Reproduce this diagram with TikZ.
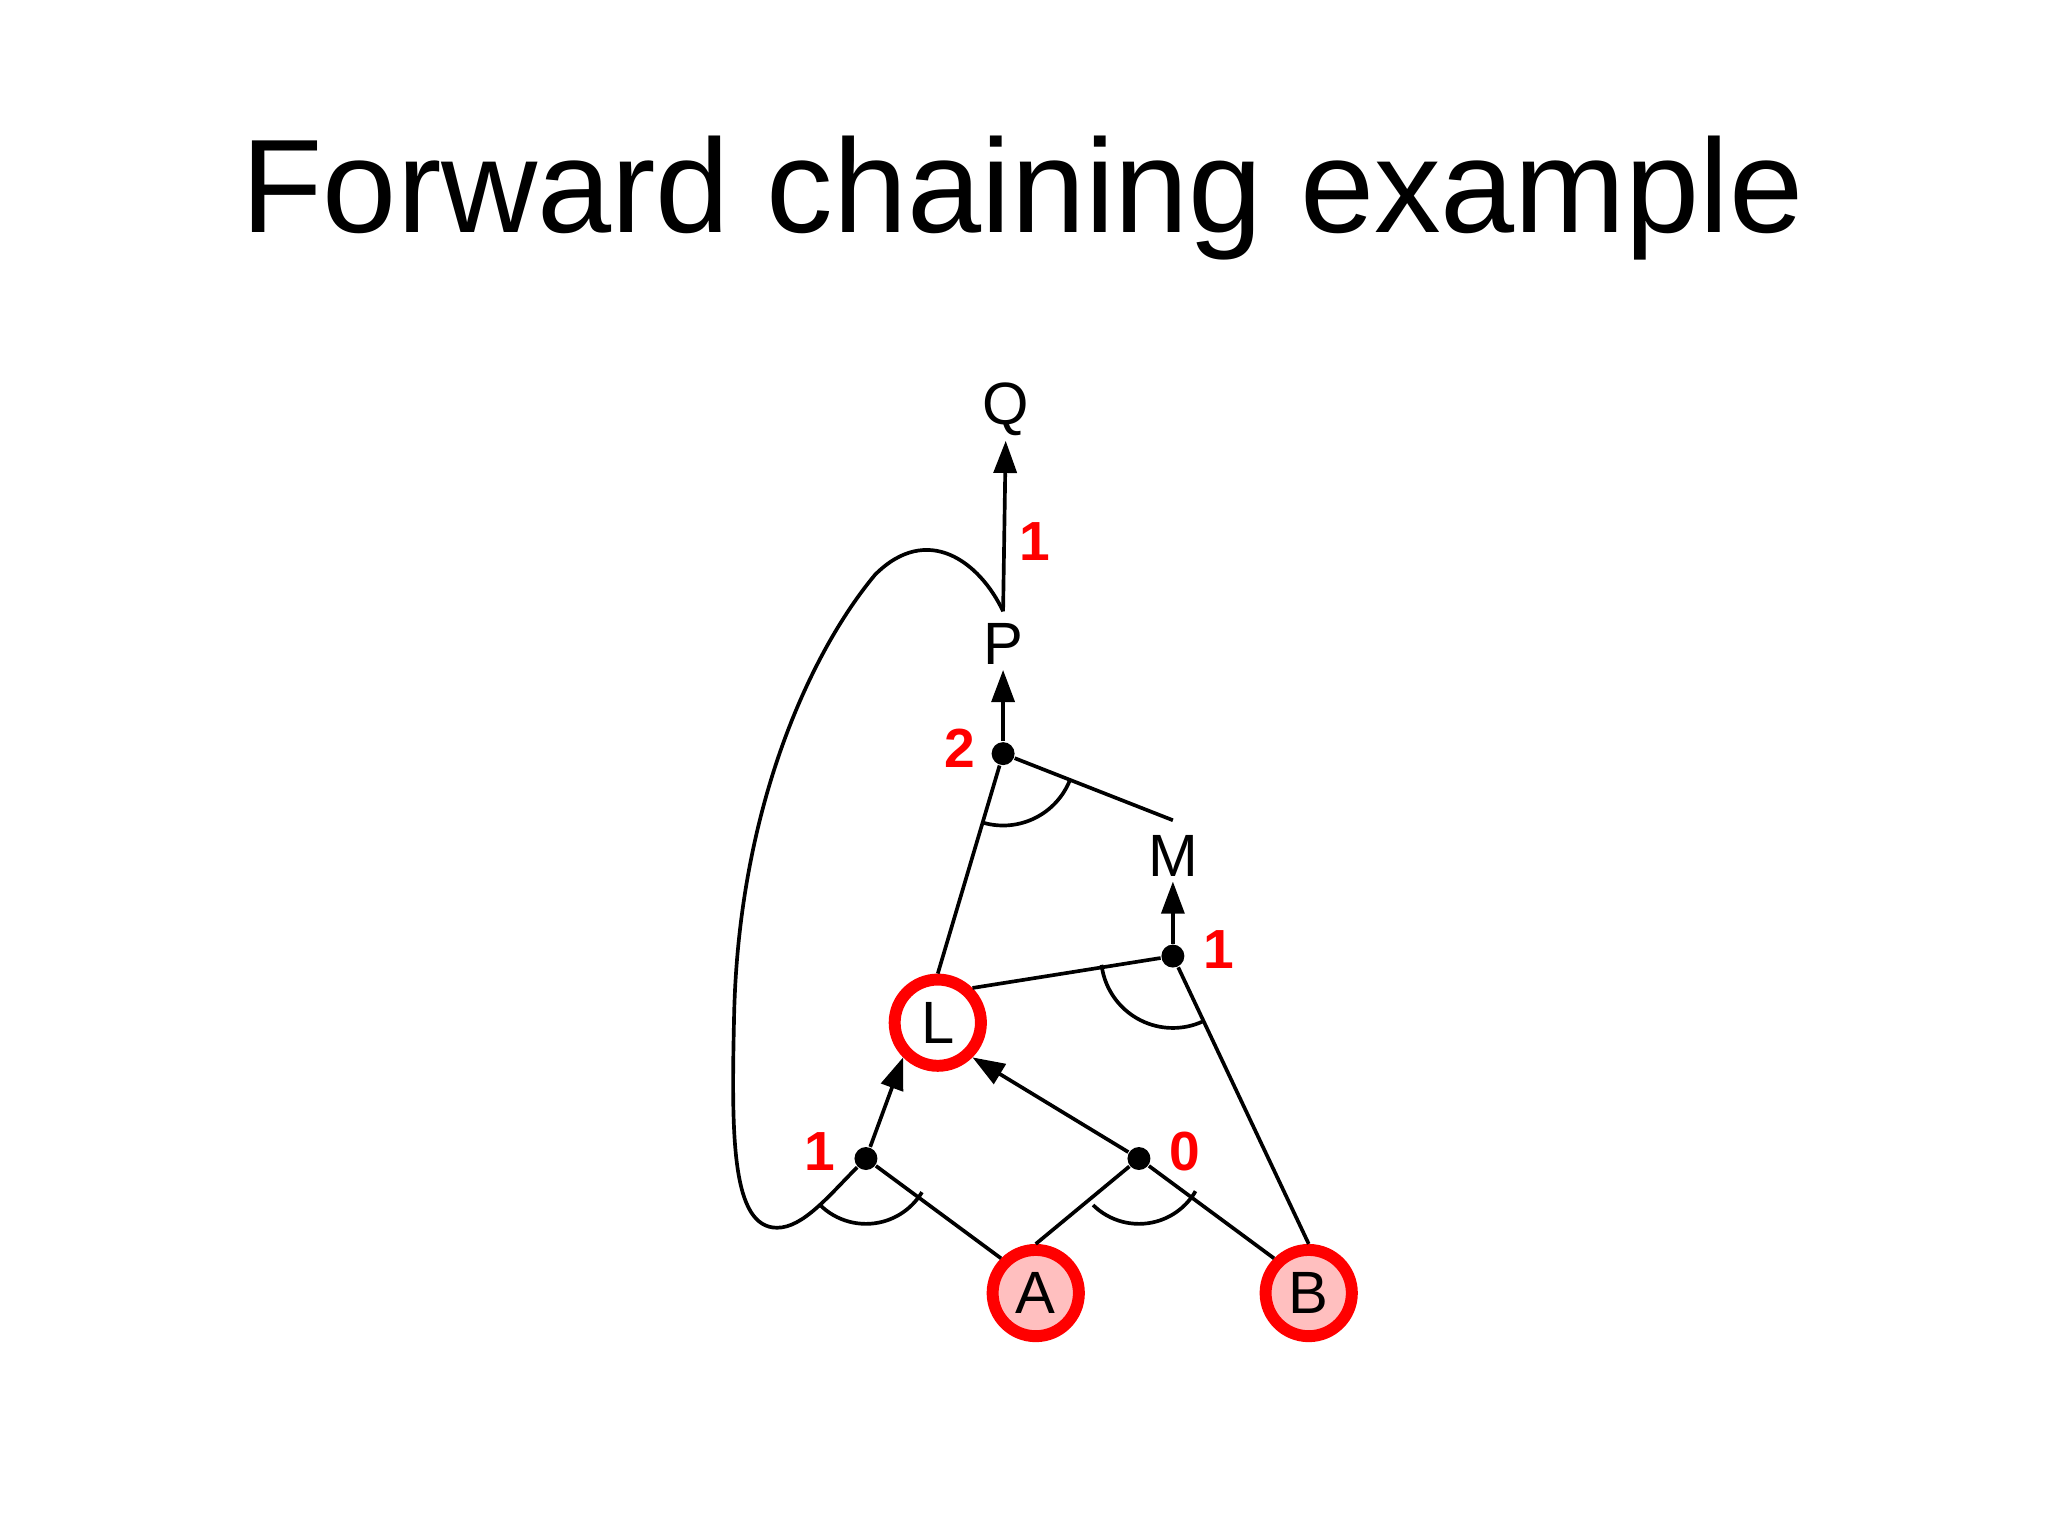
\documentclass[tikz,border=0pt]{standalone}
\usepackage{fontspec}
\setmainfont{Liberation Sans}
\usetikzlibrary{arrows.meta}
\begin{document}
\begin{tikzpicture}[x=0.01cm,y=0.01cm,
  lbl/.style={font=\fontsize{13}{15}\selectfont, inner sep=1pt},
  num/.style={font=\fontsize{12}{14}\selectfont\bfseries, text=red},
  dotn/.style={circle, fill=black, inner sep=0pt, minimum size=5pt},
  ring/.style={circle, draw=red, line width=2.6pt, minimum size=0.66cm, inner sep=0pt, font=\fontsize{13}{15}\selectfont},
  ln/.style={line width=0.8pt},
  arr/.style={ln, -{Triangle[length=7pt,width=5pt]}}]
\useasboundingbox (0,0) rectangle (1568,-1176);
\node at (783,-152) {\fontsize{29}{34}\selectfont Forward chaining example};
\node[lbl] (Q) at (770,-313) {Q};
\node[lbl] (P) at (768,-493) {P};
\node[lbl] (M) at (898,-655) {M};
\node[ring, fill=white] (L) at (718,-783) {L};
\node[ring, fill=red!25] (A) at (793,-990) {A};
\node[ring, fill=red!25] (B) at (1002,-990) {B};
\node[dotn] (pd) at (768,-577) {};
\node[dotn] (md) at (898,-732) {};
\node[dotn] (l1) at (663,-887) {};
\node[dotn] (l2) at (872,-887) {};
\coordinate (pb) at (768,-468);
\coordinate (mt) at (898,-628);
\draw[arr] (pb) -- (Q.south);
\draw[arr] (pd) -- (P.south);
\draw[arr] (md) -- (M.south);
\draw[arr] (l1) -- (L.south west);
\draw[arr] (l2) -- (L.south east);
\draw[ln] (pd) -- (mt);
\draw[ln] (pd) -- (L.north);
\draw[ln] (md) -- (L.north east);
\draw[ln] (md) -- (B.north);
\draw[ln] (l1) -- (A.north west);
\draw[ln] (l2) -- (A.north);
\draw[ln] (l2) -- (B.north west);
\draw[ln] (l1) .. controls (635,-915) and (615,-940) .. (595,-940)
  .. controls (560,-940) and (560,-870) .. (562,-780)
  .. controls (565,-620) and (620,-500) .. (670,-440)
  .. controls (710,-400) and (750,-430) .. (pb);
\draw[ln] ([shift={(254.5:0.55cm)}]pd.center) arc[start angle=254.5,end angle=338.6,radius=0.55cm];
\draw[ln] ([shift={(187:0.55cm)}]md.center) arc[start angle=187,end angle=294,radius=0.55cm];
\draw[ln] ([shift={(225:0.5cm)}]l1.center) arc[start angle=225,end angle=329,radius=0.5cm];
\draw[ln] ([shift={(225.4:0.5cm)}]l2.center) arc[start angle=225.4,end angle=330,radius=0.5cm];
\node[num] at (792,-415) {1};
\node[num] at (735,-573) {2};
\node[num] at (933,-727) {1};
\node[num] at (628,-882) {1};
\node[num] at (907,-882) {0};
\end{tikzpicture}
\end{document}
